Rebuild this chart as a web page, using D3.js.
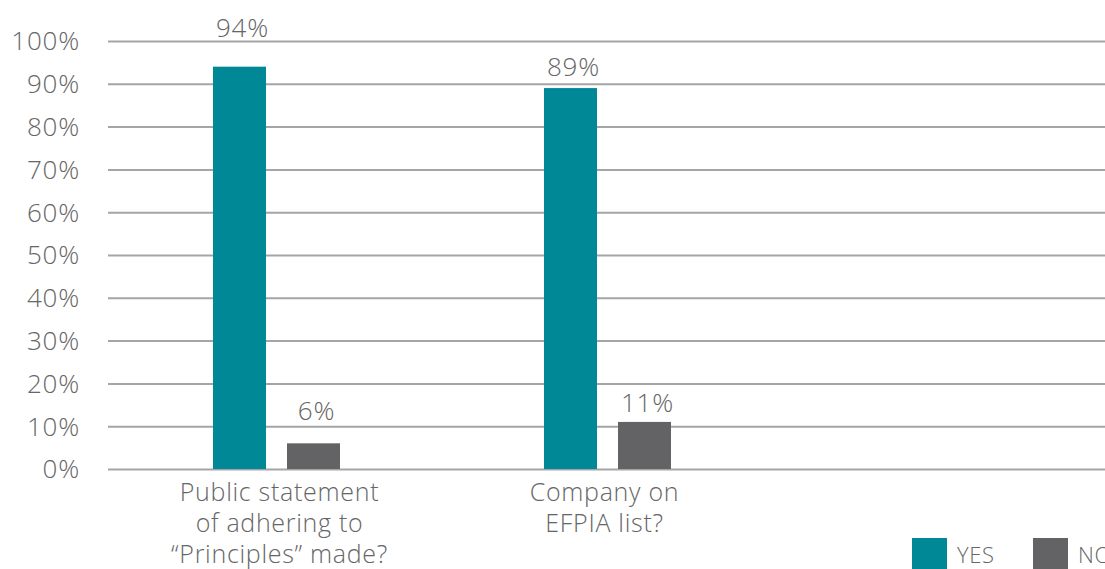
<!DOCTYPE html>
<html>
<head>
<meta charset="utf-8">
<script src="https://cdn.jsdelivr.net/npm/d3@7"></script>
<style>
  html, body { margin: 0; padding: 0; background: #fff; overflow: hidden; }
  svg text { font-family: "Open Sans", "Noto Sans", sans-serif; font-weight: 300; fill: #666666; }
</style>
</head>
<body>
<svg id="chart" width="1105" height="569"></svg>
<script>
// Survey answers per question, in percent
const categories = [
  ["Public statement", "of adhering to", "\u201cPrinciples\u201d made?"],
  ["Company on", "EFPIA list?"],
  [""]
];
const seriesNames = ["YES", "NO"];
const yesValues = [94, 89, null];
const noValues = [6, 11, null];
const yTicks = [0, 10, 20, 30, 40, 50, 60, 70, 80, 90, 100];

const colors = { YES: "#008896", NO: "#636365" };
// vertical nudge of each value label above its bar (px)
const labelLift = { YES: [30, 12, 0], NO: [23, 10, 0] };

const svg = d3.select("#chart");
const plot = { left: 108, right: 1105, top: 41, bottom: 469 };

const catKeys = categories.map((c, i) => "c" + i);

const x = d3.scaleBand()
  .domain(catKeys)
  .range([111, 1104]);

const groupWidth = 127;
const xInner = d3.scaleBand()
  .domain(seriesNames)
  .range([0, groupWidth])
  .paddingInner(0.284);

const y = d3.scaleLinear()
  .domain([0, 100])
  .range([plot.bottom, plot.top]);

// Horizontal gridlines with percent labels
const yAxis = d3.axisLeft(y)
  .tickValues(yTicks)
  .tickFormat(d => d + "%")
  .tickSize(-(plot.right - plot.left))
  .tickPadding(28);

const gy = svg.append("g")
  .attr("transform", `translate(${plot.left},0)`)
  .call(yAxis);
gy.select(".domain").remove();
gy.selectAll(".tick line")
  .attr("stroke", "#a5a5a5")
  .attr("stroke-width", 2);
gy.selectAll(".tick text")
  .attr("font-size", 26)
  .attr("dy", "0.34em")
  .attr("letter-spacing", 0.8)
  .attr("fill", "#666666")
  .style("font-family", "\"Open Sans\", sans-serif")
  .style("font-weight", 300);

// Bars
const rows = catKeys.map((k, i) => ({ key: k, i, YES: yesValues[i], NO: noValues[i] }));
const groups = svg.append("g")
  .selectAll("g")
  .data(rows)
  .join("g")
  .attr("transform", d => `translate(${x(d.key) + (x.bandwidth() - groupWidth) / 2},0)`);

const bars = groups.selectAll("g.bar")
  .data(d => seriesNames.filter(s => d[s] != null).map(s => ({ series: s, value: d[s], i: d.i })))
  .join("g")
  .attr("class", "bar");

bars.append("rect")
  .attr("x", d => xInner(d.series))
  .attr("width", xInner.bandwidth())
  .attr("y", d => y(d.value))
  .attr("height", d => y(0) - y(d.value))
  .attr("fill", d => colors[d.series]);

bars.append("text")
  .attr("x", d => xInner(d.series) + xInner.bandwidth() / 2 + 3)
  .attr("y", d => y(d.value) - labelLift[d.series][d.i])
  .attr("text-anchor", "middle")
  .attr("font-size", 26)
  .attr("letter-spacing", 0.8)
  .text(d => d.value + "%");

// Category labels under the baseline
const catShift = [3, -3, 0];
const catLabels = svg.append("g")
  .selectAll("text")
  .data(categories.map((lines, i) => ({ key: catKeys[i], i, lines })))
  .join("text")
  .attr("y", 501)
  .attr("text-anchor", "middle")
  .attr("font-size", 25)
  .attr("letter-spacing", 0.7);
catLabels.selectAll("tspan")
  .data(d => d.lines.map((t, j) => ({ t, j, cx: x(d.key) + x.bandwidth() / 2 + catShift[d.i] })))
  .join("tspan")
  .attr("x", d => d.cx)
  .attr("dy", d => d.j === 0 ? 0 : 31)
  .text(d => d.t);

// Legend
const legend = svg.append("g")
  .selectAll("g")
  .data(seriesNames)
  .join("g")
  .attr("transform", (d, i) => `translate(${912 + i * 121},538)`);
legend.append("rect")
  .attr("width", 35)
  .attr("height", 32)
  .attr("fill", d => colors[d]);
legend.append("text")
  .attr("x", 45)
  .attr("y", 25)
  .attr("font-size", 22)
  .attr("letter-spacing", 0.6)
  .text(d => d);
</script>
</body>
</html>
